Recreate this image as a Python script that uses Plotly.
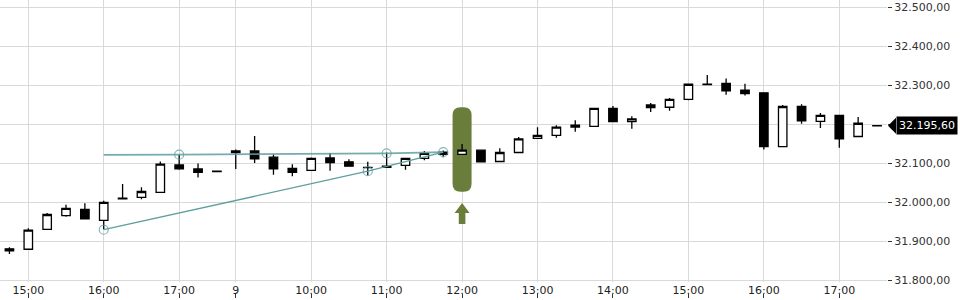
import plotly.graph_objects as go

# ---------------- data ----------------
times = ["14:45", "15:00", "15:15", "15:30", "15:45", "16:00", "16:15", "16:30", "16:45", "17:00", "17:15", "17:30",
         "09:00", "09:15", "09:30", "09:45", "10:00", "10:15", "10:30", "10:45", "11:00", "11:15", "11:30", "11:45",
         "12:00", "12:15", "12:30", "12:45", "13:00", "13:15", "13:30", "13:45", "14:00", "14:15", "14:30", "14:45",
         "15:00", "15:15", "15:30", "15:45", "16:00", "16:15", "16:30", "16:45", "17:00", "17:15", "17:30"]
opens = [31880, 31879, 31930, 31965, 31981, 31953, 32008, 32012, 32025, 32095, 32085, 32078,
         32131, 32131, 32115, 32086, 32081, 32113, 32103, 32089, 32092, 32094, 32112, 32128,
         32122, 32133, 32104, 32127, 32163, 32171, 32192, 32194, 32240, 32206, 32249, 32243,
         32263, 32301, 32304, 32287, 32280, 32142, 32245, 32207, 32222, 32168, 32196]
highs = [31884, 31933, 31972, 31993, 31997, 32003, 32046, 32038, 32104, 32122, 32099, 32080,
         32135, 32169, 32122, 32097, 32114, 32126, 32110, 32103, 32127, 32113, 32131, 32132,
         32149, 32133, 32138, 32167, 32192, 32197, 32210, 32241, 32246, 32220, 32254, 32267,
         32302, 32326, 32317, 32303, 32280, 32249, 32251, 32228, 32223, 32218, 32196]
lows = [31867, 31877, 31929, 31962, 31956, 31930, 32007, 32007, 32024, 32083, 32063, 32078,
        32085, 32100, 32070, 32066, 32080, 32080, 32091, 32068, 32089, 32083, 32107, 32115,
        32122, 32103, 32104, 32127, 32163, 32165, 32180, 32194, 32206, 32188, 32231, 32234,
        32261, 32301, 32275, 32273, 32135, 32142, 32201, 32190, 32139, 32168, 32195.6]
closes = [31875, 31928, 31968, 31984, 31957, 31999, 32010, 32027, 32097, 32085, 32076, 32079,
          32127, 32111, 32085, 32076, 32112, 32101, 32092, 32088, 32089, 32112, 32125, 32122,
          32133, 32103, 32127, 32162, 32171, 32192, 32197, 32240, 32206, 32213, 32242, 32263,
          32302, 32302, 32285, 32278, 32142, 32245, 32208, 32222, 32162, 32202, 32195.6]

tick_index = [1, 5, 9, 12, 16, 20, 24, 28, 32, 36, 40, 44]
tick_labels = ["15:00", "16:00", "17:00", "9", "10:00", "11:00", "12:00", "13:00", "14:00", "15:00", "16:00", "17:00"]
price_ticks = [31800, 31900, 32000, 32100, 32200, 32300, 32400, 32500]

# drawn triangle pattern (index, price)
upper_x = [5, 9, 20, 23]
upper_y = [32121, 32121.5, 32125, 32128]
lower_x = [5, 19, 23]
lower_y = [31929, 32079, 32128]
pivot_x = [5, 9, 19, 20, 23]
pivot_y = [31929, 32121.5, 32079, 32125, 32128]

highlight_index = 24
highlight_price = 32134.6

# ---------------- styling ----------------
Y_RANGE = [31795, 32518]
X_RANGE = [-0.5, 46.53]
GRID = "#d9d9d9"
TEAL = "#5f9ea0"
GREEN = "#6b7d3a"
FONT = "DejaVu Sans"


def de_fmt(v):
    return f"{v:,.2f}".replace(",", "X").replace(".", ",").replace("X", ".")


idx = list(range(len(times)))
last = closes[-1]
# the last-price tag covers the nearest price label
price_text = ["" if abs(p - last) < 20 else de_fmt(p) for p in price_ticks]

fig = go.Figure()

fig.add_trace(go.Candlestick(
    x=idx, open=opens, high=highs, low=lows, close=closes,
    increasing=dict(line=dict(color="black", width=1.3), fillcolor="white"),
    decreasing=dict(line=dict(color="black", width=1.3), fillcolor="black"),
    whiskerwidth=0, hoverinfo="skip", showlegend=False,
))

fig.add_trace(go.Scatter(x=upper_x, y=upper_y, mode="lines",
                         line=dict(color="rgba(95,158,160,0.85)", width=1.8),
                         hoverinfo="skip", showlegend=False))
fig.add_trace(go.Scatter(x=lower_x, y=lower_y, mode="lines",
                         line=dict(color=TEAL, width=1.3),
                         hoverinfo="skip", showlegend=False))
fig.add_trace(go.Scatter(x=pivot_x, y=pivot_y, mode="markers",
                         marker=dict(symbol="circle-open", size=9, color="rgba(95,158,160,0.75)",
                                     line=dict(color="rgba(95,158,160,0.75)", width=1.2)),
                         hoverinfo="skip", showlegend=False))

# dummy trace to hold the lower tick-mark axis
fig.add_trace(go.Scatter(x=[tick_index[0]], y=[None], xaxis="x2", mode="markers",
                         hoverinfo="skip", showlegend=False))

# highlight box (rounded) and arrow, in pixel units around the highlighted candle
w, h, r = 9.5, 42.2, 8
rr = (f"M {-w},{-(h - r)} L {-w},{h - r} Q {-w},{h} {-(w - r)},{h} L {w - r},{h} Q {w},{h} {w},{h - r} "
      f"L {w},{-(h - r)} Q {w},{-h} {w - r},{-h} L {-(w - r)},{-h} Q {-w},{-h} {-w},{-(h - r)} Z")
fig.add_shape(type="path", xref="x", yref="y", xsizemode="pixel", ysizemode="pixel",
              xanchor=highlight_index, yanchor=highlight_price, path=rr,
              fillcolor=GREEN, line=dict(width=0), layer="between")
arrow = "M 0,-53.5 L 7.5,-63.5 L 3.3,-63.5 L 3.3,-74.5 L -3.3,-74.5 L -3.3,-63.5 L -7.5,-63.5 Z"
fig.add_shape(type="path", xref="x", yref="y", xsizemode="pixel", ysizemode="pixel",
              xanchor=highlight_index, yanchor=highlight_price, path=arrow,
              fillcolor=GREEN, line=dict(width=0), layer="above")

# last price tag
frac = (last - Y_RANGE[0]) / (Y_RANGE[1] - Y_RANGE[0])
fig.add_shape(type="path", xref="paper", yref="y domain", xsizemode="pixel", ysizemode="pixel",
              xanchor=1, yanchor=frac, path="M 1,0 L 9,8 L 9,-8 Z",
              fillcolor="black", line=dict(width=0), layer="above")
fig.add_annotation(x=1, xref="paper", y=last, yref="y", xanchor="left", yanchor="middle",
                   xshift=9, text=de_fmt(last), showarrow=False, bgcolor="black",
                   font=dict(family=FONT, size=11, color="white"), borderpad=2)

fig.update_layout(
    width=960, height=300,
    margin=dict(l=0, r=73, t=0, b=7),
    paper_bgcolor="white", plot_bgcolor="white",
    boxgap=0.36,
    showlegend=False,
    font=dict(family=FONT, size=11, color="#333"),
    xaxis=dict(range=X_RANGE, tickmode="array", tickvals=tick_index, ticktext=tick_labels,
               showgrid=True, gridcolor=GRID, gridwidth=1, zeroline=False, showline=False,
               ticks="", rangeslider=dict(visible=False),
               tickfont=dict(family=FONT, size=11, color="#222"), domain=[0, 1]),
    xaxis2=dict(overlaying="x", matches="x", anchor="free", position=0, tickmode="array",
                tickvals=tick_index, showticklabels=False, ticks="outside", ticklen=4,
                tickcolor="#333", tickwidth=1, showgrid=False, zeroline=False, showline=False),
    yaxis=dict(range=Y_RANGE, side="right", domain=[11 / 293, 1], tickmode="array",
               tickvals=price_ticks, ticktext=price_text,
               showgrid=True, gridcolor=GRID, gridwidth=1, zeroline=False,
               showline=False, ticks="outside", ticklen=4, tickcolor="#333",
               tickfont=dict(family=FONT, size=11, color="#333")),
)

fig.write_html("out.html", config=dict(displayModeBar=False))
